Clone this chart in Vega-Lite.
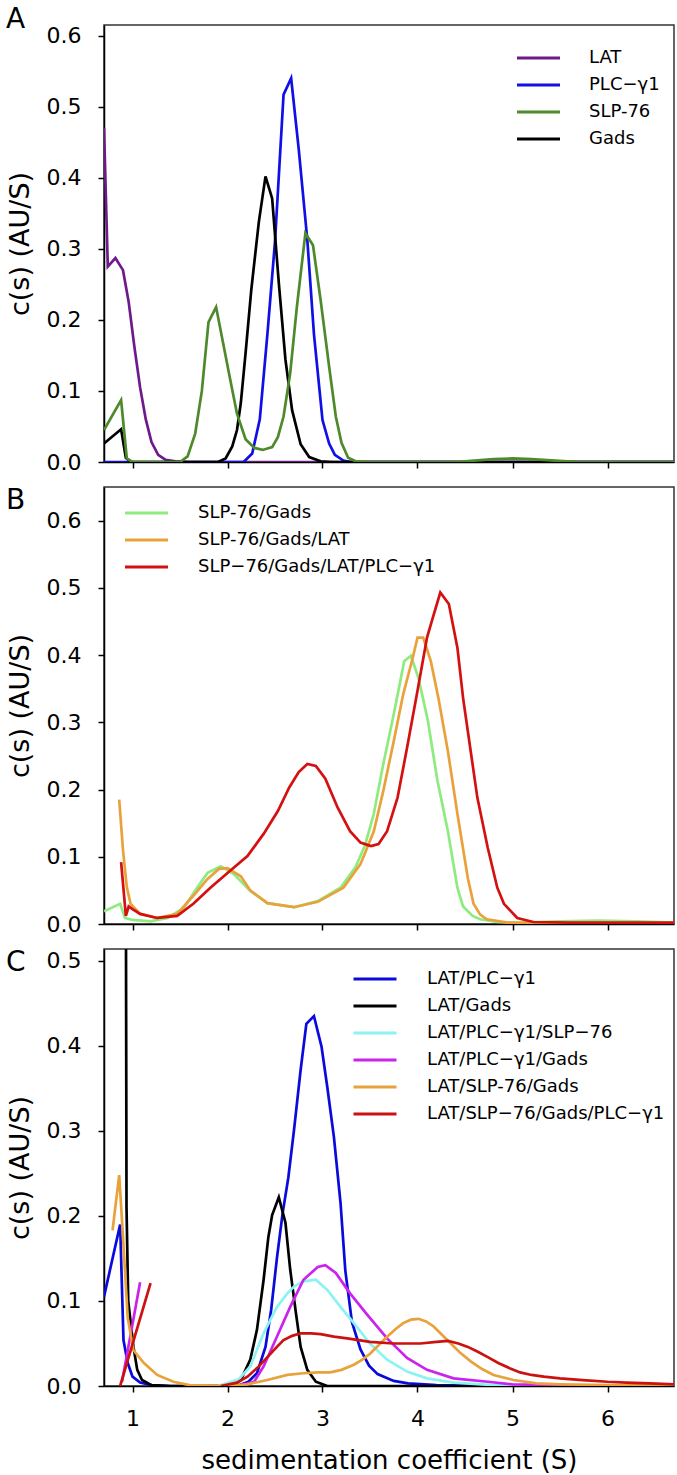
{
"$schema": "https://vega.github.io/schema/vega-lite/v6.json",
"padding": {"left": 5, "top": 4, "right": 4, "bottom": 2},
"spacing": 12,
"background": "white",
"config": {
  "font": "DejaVu Sans",
  "view": {"stroke": "#333333", "strokeWidth": 1.5},
  "axis": {"domainColor": "#000000", "domainWidth": 1.5, "tickColor": "#000000", "tickWidth": 1.5, "tickSize": 6, "grid": false, "labelFont": "DejaVu Sans", "labelFontSize": 22, "labelColor": "#000000", "titleFont": "DejaVu Sans", "titleFontSize": 27, "titleFontWeight": "normal", "titleColor": "#000000"},
  "legend": {"labelFont": "DejaVu Sans", "labelFontSize": 18, "labelColor": "#000000", "padding": 0, "rowPadding": 9, "symbolType": "M-3,0H3", "symbolSize": 205.4, "symbolStrokeWidth": 3, "labelLimit": 400},
  "title": {"font": "DejaVu Sans", "fontSize": 28, "fontWeight": "normal", "color": "#000000"}
},
"resolve": {"scale": {"x": "independent", "y": "independent", "color": "independent"}, "axis": {"x": "independent", "y": "independent"}, "legend": {"color": "independent"}},
"datasets": {
"A": [
{"s":0.7,"c":0.47,"name":"LAT"},{"s":0.74,"c":0.275,"name":"LAT"},{"s":0.82,"c":0.287,"name":"LAT"},{"s":0.9,"c":0.27,"name":"LAT"},{"s":0.96,"c":0.225,"name":"LAT"},{"s":1.02,"c":0.162,"name":"LAT"},{"s":1.08,"c":0.105,"name":"LAT"},{"s":1.14,"c":0.06,"name":"LAT"},{"s":1.2,"c":0.028,"name":"LAT"},{"s":1.27,"c":0.01,"name":"LAT"},{"s":1.35,"c":0.003,"name":"LAT"},{"s":1.45,"c":0.001,"name":"LAT"},{"s":1.6,"c":0,"name":"LAT"},{"s":3.0,"c":0,"name":"LAT"},{"s":4.5,"c":0,"name":"LAT"},{"s":6.7,"c":0,"name":"LAT"},
{"s":0.7,"c":0,"name":"PLC−γ1"},{"s":2.17,"c":0,"name":"PLC−γ1"},{"s":2.26,"c":0.012,"name":"PLC−γ1"},{"s":2.34,"c":0.06,"name":"PLC−γ1"},{"s":2.42,"c":0.18,"name":"PLC−γ1"},{"s":2.5,"c":0.31,"name":"PLC−γ1"},{"s":2.59,"c":0.517,"name":"PLC−γ1"},{"s":2.67,"c":0.54,"name":"PLC−γ1"},{"s":2.75,"c":0.44,"name":"PLC−γ1"},{"s":2.84,"c":0.313,"name":"PLC−γ1"},{"s":2.91,"c":0.18,"name":"PLC−γ1"},{"s":3.0,"c":0.059,"name":"PLC−γ1"},{"s":3.07,"c":0.026,"name":"PLC−γ1"},{"s":3.13,"c":0.01,"name":"PLC−γ1"},{"s":3.22,"c":0.002,"name":"PLC−γ1"},{"s":3.3,"c":0,"name":"PLC−γ1"},{"s":6.7,"c":0,"name":"PLC−γ1"},
{"s":0.7,"c":0.026,"name":"Gads"},{"s":0.88,"c":0.046,"name":"Gads"},{"s":0.93,"c":0.006,"name":"Gads"},{"s":0.98,"c":0,"name":"Gads"},{"s":1.9,"c":0,"name":"Gads"},{"s":1.98,"c":0.005,"name":"Gads"},{"s":2.05,"c":0.022,"name":"Gads"},{"s":2.1,"c":0.045,"name":"Gads"},{"s":2.14,"c":0.083,"name":"Gads"},{"s":2.19,"c":0.153,"name":"Gads"},{"s":2.25,"c":0.242,"name":"Gads"},{"s":2.33,"c":0.338,"name":"Gads"},{"s":2.4,"c":0.402,"name":"Gads"},{"s":2.47,"c":0.371,"name":"Gads"},{"s":2.54,"c":0.252,"name":"Gads"},{"s":2.61,"c":0.144,"name":"Gads"},{"s":2.68,"c":0.073,"name":"Gads"},{"s":2.77,"c":0.025,"name":"Gads"},{"s":2.86,"c":0.007,"name":"Gads"},{"s":2.98,"c":0.001,"name":"Gads"},{"s":3.1,"c":0,"name":"Gads"},{"s":6.7,"c":0,"name":"Gads"},
{"s":0.7,"c":0.045,"name":"SLP-76"},{"s":0.88,"c":0.087,"name":"SLP-76"},{"s":0.94,"c":0.005,"name":"SLP-76"},{"s":1.0,"c":0,"name":"SLP-76"},{"s":1.5,"c":0,"name":"SLP-76"},{"s":1.58,"c":0.008,"name":"SLP-76"},{"s":1.66,"c":0.04,"name":"SLP-76"},{"s":1.73,"c":0.1,"name":"SLP-76"},{"s":1.8,"c":0.197,"name":"SLP-76"},{"s":1.88,"c":0.218,"name":"SLP-76"},{"s":1.95,"c":0.17,"name":"SLP-76"},{"s":2.03,"c":0.115,"name":"SLP-76"},{"s":2.1,"c":0.068,"name":"SLP-76"},{"s":2.19,"c":0.032,"name":"SLP-76"},{"s":2.28,"c":0.02,"name":"SLP-76"},{"s":2.37,"c":0.017,"name":"SLP-76"},{"s":2.47,"c":0.021,"name":"SLP-76"},{"s":2.53,"c":0.035,"name":"SLP-76"},{"s":2.59,"c":0.064,"name":"SLP-76"},{"s":2.66,"c":0.125,"name":"SLP-76"},{"s":2.73,"c":0.218,"name":"SLP-76"},{"s":2.82,"c":0.322,"name":"SLP-76"},{"s":2.9,"c":0.305,"name":"SLP-76"},{"s":2.98,"c":0.228,"name":"SLP-76"},{"s":3.07,"c":0.134,"name":"SLP-76"},{"s":3.14,"c":0.064,"name":"SLP-76"},{"s":3.2,"c":0.027,"name":"SLP-76"},{"s":3.27,"c":0.006,"name":"SLP-76"},{"s":3.35,"c":0.001,"name":"SLP-76"},{"s":3.5,"c":0,"name":"SLP-76"},{"s":4.4,"c":0,"name":"SLP-76"},{"s":4.6,"c":0.002,"name":"SLP-76"},{"s":4.8,"c":0.004,"name":"SLP-76"},{"s":5.0,"c":0.005,"name":"SLP-76"},{"s":5.2,"c":0.004,"name":"SLP-76"},{"s":5.45,"c":0.002,"name":"SLP-76"},{"s":5.7,"c":0,"name":"SLP-76"},{"s":6.7,"c":0,"name":"SLP-76"}
],
"B": [
{"s":0.7,"c":0.019,"name":"SLP-76/Gads"},{"s":0.87,"c":0.03,"name":"SLP-76/Gads"},{"s":0.92,"c":0.009,"name":"SLP-76/Gads"},{"s":1.0,"c":0.006,"name":"SLP-76/Gads"},{"s":1.19,"c":0.004,"name":"SLP-76/Gads"},{"s":1.37,"c":0.009,"name":"SLP-76/Gads"},{"s":1.54,"c":0.024,"name":"SLP-76/Gads"},{"s":1.68,"c":0.054,"name":"SLP-76/Gads"},{"s":1.79,"c":0.076,"name":"SLP-76/Gads"},{"s":1.93,"c":0.086,"name":"SLP-76/Gads"},{"s":2.07,"c":0.074,"name":"SLP-76/Gads"},{"s":2.24,"c":0.049,"name":"SLP-76/Gads"},{"s":2.42,"c":0.031,"name":"SLP-76/Gads"},{"s":2.7,"c":0.025,"name":"SLP-76/Gads"},{"s":2.95,"c":0.034,"name":"SLP-76/Gads"},{"s":3.19,"c":0.054,"name":"SLP-76/Gads"},{"s":3.35,"c":0.085,"name":"SLP-76/Gads"},{"s":3.45,"c":0.118,"name":"SLP-76/Gads"},{"s":3.54,"c":0.164,"name":"SLP-76/Gads"},{"s":3.64,"c":0.238,"name":"SLP-76/Gads"},{"s":3.75,"c":0.312,"name":"SLP-76/Gads"},{"s":3.82,"c":0.362,"name":"SLP-76/Gads"},{"s":3.86,"c":0.391,"name":"SLP-76/Gads"},{"s":3.93,"c":0.399,"name":"SLP-76/Gads"},{"s":4.01,"c":0.366,"name":"SLP-76/Gads"},{"s":4.11,"c":0.302,"name":"SLP-76/Gads"},{"s":4.21,"c":0.213,"name":"SLP-76/Gads"},{"s":4.32,"c":0.138,"name":"SLP-76/Gads"},{"s":4.42,"c":0.054,"name":"SLP-76/Gads"},{"s":4.48,"c":0.026,"name":"SLP-76/Gads"},{"s":4.58,"c":0.012,"name":"SLP-76/Gads"},{"s":4.66,"c":0.007,"name":"SLP-76/Gads"},{"s":4.84,"c":0.003,"name":"SLP-76/Gads"},{"s":5.1,"c":0.002,"name":"SLP-76/Gads"},{"s":5.5,"c":0.004,"name":"SLP-76/Gads"},{"s":5.9,"c":0.005,"name":"SLP-76/Gads"},{"s":6.3,"c":0.004,"name":"SLP-76/Gads"},{"s":6.7,"c":0.002,"name":"SLP-76/Gads"},
{"s":0.86,"c":0.185,"name":"SLP-76/Gads/LAT"},{"s":0.9,"c":0.11,"name":"SLP-76/Gads/LAT"},{"s":0.94,"c":0.055,"name":"SLP-76/Gads/LAT"},{"s":0.98,"c":0.03,"name":"SLP-76/Gads/LAT"},{"s":1.08,"c":0.015,"name":"SLP-76/Gads/LAT"},{"s":1.26,"c":0.009,"name":"SLP-76/Gads/LAT"},{"s":1.47,"c":0.015,"name":"SLP-76/Gads/LAT"},{"s":1.64,"c":0.042,"name":"SLP-76/Gads/LAT"},{"s":1.79,"c":0.067,"name":"SLP-76/Gads/LAT"},{"s":1.91,"c":0.082,"name":"SLP-76/Gads/LAT"},{"s":2.0,"c":0.083,"name":"SLP-76/Gads/LAT"},{"s":2.14,"c":0.071,"name":"SLP-76/Gads/LAT"},{"s":2.24,"c":0.05,"name":"SLP-76/Gads/LAT"},{"s":2.42,"c":0.031,"name":"SLP-76/Gads/LAT"},{"s":2.7,"c":0.025,"name":"SLP-76/Gads/LAT"},{"s":2.95,"c":0.033,"name":"SLP-76/Gads/LAT"},{"s":3.22,"c":0.054,"name":"SLP-76/Gads/LAT"},{"s":3.4,"c":0.089,"name":"SLP-76/Gads/LAT"},{"s":3.54,"c":0.138,"name":"SLP-76/Gads/LAT"},{"s":3.64,"c":0.198,"name":"SLP-76/Gads/LAT"},{"s":3.75,"c":0.272,"name":"SLP-76/Gads/LAT"},{"s":3.85,"c":0.342,"name":"SLP-76/Gads/LAT"},{"s":3.95,"c":0.396,"name":"SLP-76/Gads/LAT"},{"s":4.0,"c":0.426,"name":"SLP-76/Gads/LAT"},{"s":4.06,"c":0.426,"name":"SLP-76/Gads/LAT"},{"s":4.14,"c":0.391,"name":"SLP-76/Gads/LAT"},{"s":4.22,"c":0.336,"name":"SLP-76/Gads/LAT"},{"s":4.32,"c":0.257,"name":"SLP-76/Gads/LAT"},{"s":4.42,"c":0.164,"name":"SLP-76/Gads/LAT"},{"s":4.53,"c":0.068,"name":"SLP-76/Gads/LAT"},{"s":4.59,"c":0.03,"name":"SLP-76/Gads/LAT"},{"s":4.66,"c":0.014,"name":"SLP-76/Gads/LAT"},{"s":4.73,"c":0.007,"name":"SLP-76/Gads/LAT"},{"s":4.95,"c":0.002,"name":"SLP-76/Gads/LAT"},{"s":5.5,"c":0.001,"name":"SLP-76/Gads/LAT"},{"s":6.7,"c":0.001,"name":"SLP-76/Gads/LAT"},
{"s":0.88,"c":0.092,"name":"SLP−76/Gads/LAT/PLC−γ1"},{"s":0.93,"c":0.012,"name":"SLP−76/Gads/LAT/PLC−γ1"},{"s":0.96,"c":0.026,"name":"SLP−76/Gads/LAT/PLC−γ1"},{"s":1.0,"c":0.022,"name":"SLP−76/Gads/LAT/PLC−γ1"},{"s":1.08,"c":0.015,"name":"SLP−76/Gads/LAT/PLC−γ1"},{"s":1.26,"c":0.009,"name":"SLP−76/Gads/LAT/PLC−γ1"},{"s":1.47,"c":0.012,"name":"SLP−76/Gads/LAT/PLC−γ1"},{"s":1.64,"c":0.03,"name":"SLP−76/Gads/LAT/PLC−γ1"},{"s":1.82,"c":0.054,"name":"SLP−76/Gads/LAT/PLC−γ1"},{"s":2.0,"c":0.076,"name":"SLP−76/Gads/LAT/PLC−γ1"},{"s":2.21,"c":0.101,"name":"SLP−76/Gads/LAT/PLC−γ1"},{"s":2.38,"c":0.134,"name":"SLP−76/Gads/LAT/PLC−γ1"},{"s":2.53,"c":0.168,"name":"SLP−76/Gads/LAT/PLC−γ1"},{"s":2.65,"c":0.203,"name":"SLP−76/Gads/LAT/PLC−γ1"},{"s":2.75,"c":0.226,"name":"SLP−76/Gads/LAT/PLC−γ1"},{"s":2.84,"c":0.238,"name":"SLP−76/Gads/LAT/PLC−γ1"},{"s":2.93,"c":0.235,"name":"SLP−76/Gads/LAT/PLC−γ1"},{"s":3.03,"c":0.216,"name":"SLP−76/Gads/LAT/PLC−γ1"},{"s":3.16,"c":0.173,"name":"SLP−76/Gads/LAT/PLC−γ1"},{"s":3.29,"c":0.138,"name":"SLP−76/Gads/LAT/PLC−γ1"},{"s":3.4,"c":0.121,"name":"SLP−76/Gads/LAT/PLC−γ1"},{"s":3.51,"c":0.116,"name":"SLP−76/Gads/LAT/PLC−γ1"},{"s":3.59,"c":0.119,"name":"SLP−76/Gads/LAT/PLC−γ1"},{"s":3.68,"c":0.138,"name":"SLP−76/Gads/LAT/PLC−γ1"},{"s":3.79,"c":0.188,"name":"SLP−76/Gads/LAT/PLC−γ1"},{"s":3.89,"c":0.262,"name":"SLP−76/Gads/LAT/PLC−γ1"},{"s":4.0,"c":0.347,"name":"SLP−76/Gads/LAT/PLC−γ1"},{"s":4.1,"c":0.426,"name":"SLP−76/Gads/LAT/PLC−γ1"},{"s":4.16,"c":0.455,"name":"SLP−76/Gads/LAT/PLC−γ1"},{"s":4.24,"c":0.493,"name":"SLP−76/Gads/LAT/PLC−γ1"},{"s":4.33,"c":0.476,"name":"SLP−76/Gads/LAT/PLC−γ1"},{"s":4.42,"c":0.411,"name":"SLP−76/Gads/LAT/PLC−γ1"},{"s":4.48,"c":0.336,"name":"SLP−76/Gads/LAT/PLC−γ1"},{"s":4.56,"c":0.257,"name":"SLP−76/Gads/LAT/PLC−γ1"},{"s":4.63,"c":0.188,"name":"SLP−76/Gads/LAT/PLC−γ1"},{"s":4.74,"c":0.113,"name":"SLP−76/Gads/LAT/PLC−γ1"},{"s":4.84,"c":0.054,"name":"SLP−76/Gads/LAT/PLC−γ1"},{"s":4.91,"c":0.03,"name":"SLP−76/Gads/LAT/PLC−γ1"},{"s":5.05,"c":0.009,"name":"SLP−76/Gads/LAT/PLC−γ1"},{"s":5.22,"c":0.003,"name":"SLP−76/Gads/LAT/PLC−γ1"},{"s":5.6,"c":0.002,"name":"SLP−76/Gads/LAT/PLC−γ1"},{"s":6.7,"c":0.002,"name":"SLP−76/Gads/LAT/PLC−γ1"}
],
"C": [
{"s":0.7,"c":0.105,"name":"LAT/PLC−γ1","seg":1},{"s":0.87,"c":0.19,"name":"LAT/PLC−γ1","seg":1},{"s":0.905,"c":0.054,"name":"LAT/PLC−γ1","seg":1},{"s":0.95,"c":0.027,"name":"LAT/PLC−γ1","seg":1},{"s":1.0,"c":0.011,"name":"LAT/PLC−γ1","seg":1},{"s":1.08,"c":0.004,"name":"LAT/PLC−γ1","seg":1},{"s":1.2,"c":0.001,"name":"LAT/PLC−γ1","seg":1},{"s":1.4,"c":0,"name":"LAT/PLC−γ1","seg":1},{"s":2.1,"c":0,"name":"LAT/PLC−γ1","seg":1},{"s":2.22,"c":0.005,"name":"LAT/PLC−γ1","seg":1},{"s":2.31,"c":0.015,"name":"LAT/PLC−γ1","seg":1},{"s":2.4,"c":0.046,"name":"LAT/PLC−γ1","seg":1},{"s":2.46,"c":0.09,"name":"LAT/PLC−γ1","seg":1},{"s":2.52,"c":0.15,"name":"LAT/PLC−γ1","seg":1},{"s":2.58,"c":0.203,"name":"LAT/PLC−γ1","seg":1},{"s":2.64,"c":0.245,"name":"LAT/PLC−γ1","seg":1},{"s":2.7,"c":0.301,"name":"LAT/PLC−γ1","seg":1},{"s":2.77,"c":0.372,"name":"LAT/PLC−γ1","seg":1},{"s":2.83,"c":0.426,"name":"LAT/PLC−γ1","seg":1},{"s":2.91,"c":0.435,"name":"LAT/PLC−γ1","seg":1},{"s":2.99,"c":0.399,"name":"LAT/PLC−γ1","seg":1},{"s":3.05,"c":0.352,"name":"LAT/PLC−γ1","seg":1},{"s":3.12,"c":0.293,"name":"LAT/PLC−γ1","seg":1},{"s":3.19,"c":0.215,"name":"LAT/PLC−γ1","seg":1},{"s":3.24,"c":0.136,"name":"LAT/PLC−γ1","seg":1},{"s":3.31,"c":0.075,"name":"LAT/PLC−γ1","seg":1},{"s":3.4,"c":0.043,"name":"LAT/PLC−γ1","seg":1},{"s":3.49,"c":0.024,"name":"LAT/PLC−γ1","seg":1},{"s":3.58,"c":0.014,"name":"LAT/PLC−γ1","seg":1},{"s":3.75,"c":0.006,"name":"LAT/PLC−γ1","seg":1},{"s":3.9,"c":0.003,"name":"LAT/PLC−γ1","seg":1},{"s":4.2,"c":0.001,"name":"LAT/PLC−γ1","seg":1},{"s":6.7,"c":0,"name":"LAT/PLC−γ1","seg":1},
{"s":0.925,"c":0.9,"name":"LAT/Gads","seg":1},{"s":0.937,"c":0.21,"name":"LAT/Gads","seg":1},{"s":0.955,"c":0.1,"name":"LAT/Gads","seg":1},{"s":1.01,"c":0.046,"name":"LAT/Gads","seg":1},{"s":1.05,"c":0.019,"name":"LAT/Gads","seg":1},{"s":1.1,"c":0.007,"name":"LAT/Gads","seg":1},{"s":1.2,"c":0.001,"name":"LAT/Gads","seg":1},{"s":1.4,"c":0,"name":"LAT/Gads","seg":1},{"s":2.05,"c":0,"name":"LAT/Gads","seg":1},{"s":2.14,"c":0.007,"name":"LAT/Gads","seg":1},{"s":2.24,"c":0.031,"name":"LAT/Gads","seg":1},{"s":2.31,"c":0.066,"name":"LAT/Gads","seg":1},{"s":2.38,"c":0.125,"name":"LAT/Gads","seg":1},{"s":2.43,"c":0.175,"name":"LAT/Gads","seg":1},{"s":2.47,"c":0.201,"name":"LAT/Gads","seg":1},{"s":2.54,"c":0.222,"name":"LAT/Gads","seg":1},{"s":2.61,"c":0.192,"name":"LAT/Gads","seg":1},{"s":2.66,"c":0.137,"name":"LAT/Gads","seg":1},{"s":2.72,"c":0.086,"name":"LAT/Gads","seg":1},{"s":2.77,"c":0.046,"name":"LAT/Gads","seg":1},{"s":2.84,"c":0.019,"name":"LAT/Gads","seg":1},{"s":2.93,"c":0.005,"name":"LAT/Gads","seg":1},{"s":3.05,"c":0,"name":"LAT/Gads","seg":1},{"s":6.7,"c":0,"name":"LAT/Gads","seg":1},
{"s":1.9,"c":0,"name":"LAT/PLC−γ1/SLP−76","seg":1},{"s":2.12,"c":0.008,"name":"LAT/PLC−γ1/SLP−76","seg":1},{"s":2.24,"c":0.023,"name":"LAT/PLC−γ1/SLP−76","seg":1},{"s":2.38,"c":0.062,"name":"LAT/PLC−γ1/SLP−76","seg":1},{"s":2.52,"c":0.093,"name":"LAT/PLC−γ1/SLP−76","seg":1},{"s":2.63,"c":0.109,"name":"LAT/PLC−γ1/SLP−76","seg":1},{"s":2.7,"c":0.117,"name":"LAT/PLC−γ1/SLP−76","seg":1},{"s":2.8,"c":0.123,"name":"LAT/PLC−γ1/SLP−76","seg":1},{"s":2.93,"c":0.125,"name":"LAT/PLC−γ1/SLP−76","seg":1},{"s":3.05,"c":0.113,"name":"LAT/PLC−γ1/SLP−76","seg":1},{"s":3.19,"c":0.093,"name":"LAT/PLC−γ1/SLP−76","seg":1},{"s":3.33,"c":0.074,"name":"LAT/PLC−γ1/SLP−76","seg":1},{"s":3.5,"c":0.05,"name":"LAT/PLC−γ1/SLP−76","seg":1},{"s":3.68,"c":0.031,"name":"LAT/PLC−γ1/SLP−76","seg":1},{"s":3.89,"c":0.017,"name":"LAT/PLC−γ1/SLP−76","seg":1},{"s":4.1,"c":0.009,"name":"LAT/PLC−γ1/SLP−76","seg":1},{"s":4.38,"c":0.004,"name":"LAT/PLC−γ1/SLP−76","seg":1},{"s":4.8,"c":0.001,"name":"LAT/PLC−γ1/SLP−76","seg":1},{"s":5.2,"c":0,"name":"LAT/PLC−γ1/SLP−76","seg":1},
{"s":0.89,"c":0.005,"name":"LAT/PLC−γ1/Gads","seg":1},{"s":1.08,"c":0.122,"name":"LAT/PLC−γ1/Gads","seg":1},
{"s":2.1,"c":0,"name":"LAT/PLC−γ1/Gads","seg":2},{"s":2.28,"c":0.005,"name":"LAT/PLC−γ1/Gads","seg":2},{"s":2.38,"c":0.023,"name":"LAT/PLC−γ1/Gads","seg":2},{"s":2.52,"c":0.058,"name":"LAT/PLC−γ1/Gads","seg":2},{"s":2.66,"c":0.093,"name":"LAT/PLC−γ1/Gads","seg":2},{"s":2.8,"c":0.125,"name":"LAT/PLC−γ1/Gads","seg":2},{"s":2.95,"c":0.14,"name":"LAT/PLC−γ1/Gads","seg":2},{"s":3.03,"c":0.142,"name":"LAT/PLC−γ1/Gads","seg":2},{"s":3.14,"c":0.133,"name":"LAT/PLC−γ1/Gads","seg":2},{"s":3.29,"c":0.109,"name":"LAT/PLC−γ1/Gads","seg":2},{"s":3.47,"c":0.084,"name":"LAT/PLC−γ1/Gads","seg":2},{"s":3.68,"c":0.056,"name":"LAT/PLC−γ1/Gads","seg":2},{"s":3.89,"c":0.033,"name":"LAT/PLC−γ1/Gads","seg":2},{"s":4.1,"c":0.019,"name":"LAT/PLC−γ1/Gads","seg":2},{"s":4.38,"c":0.009,"name":"LAT/PLC−γ1/Gads","seg":2},{"s":4.74,"c":0.005,"name":"LAT/PLC−γ1/Gads","seg":2},{"s":5.0,"c":0.002,"name":"LAT/PLC−γ1/Gads","seg":2},{"s":5.4,"c":0.001,"name":"LAT/PLC−γ1/Gads","seg":2},{"s":6.0,"c":0,"name":"LAT/PLC−γ1/Gads","seg":2},
{"s":0.79,"c":0.183,"name":"LAT/SLP-76/Gads","seg":1},{"s":0.86,"c":0.248,"name":"LAT/SLP-76/Gads","seg":1},{"s":0.9,"c":0.175,"name":"LAT/SLP-76/Gads","seg":1},{"s":0.95,"c":0.08,"name":"LAT/SLP-76/Gads","seg":1},{"s":1.01,"c":0.042,"name":"LAT/SLP-76/Gads","seg":1},{"s":1.12,"c":0.027,"name":"LAT/SLP-76/Gads","seg":1},{"s":1.26,"c":0.013,"name":"LAT/SLP-76/Gads","seg":1},{"s":1.43,"c":0.005,"name":"LAT/SLP-76/Gads","seg":1},{"s":1.6,"c":0.001,"name":"LAT/SLP-76/Gads","seg":1},{"s":2.0,"c":0,"name":"LAT/SLP-76/Gads","seg":1},{"s":2.21,"c":0.002,"name":"LAT/SLP-76/Gads","seg":1},{"s":2.42,"c":0.007,"name":"LAT/SLP-76/Gads","seg":1},{"s":2.63,"c":0.013,"name":"LAT/SLP-76/Gads","seg":1},{"s":2.8,"c":0.015,"name":"LAT/SLP-76/Gads","seg":1},{"s":2.95,"c":0.016,"name":"LAT/SLP-76/Gads","seg":1},{"s":3.08,"c":0.016,"name":"LAT/SLP-76/Gads","seg":1},{"s":3.2,"c":0.019,"name":"LAT/SLP-76/Gads","seg":1},{"s":3.33,"c":0.025,"name":"LAT/SLP-76/Gads","seg":1},{"s":3.42,"c":0.031,"name":"LAT/SLP-76/Gads","seg":1},{"s":3.5,"c":0.038,"name":"LAT/SLP-76/Gads","seg":1},{"s":3.59,"c":0.048,"name":"LAT/SLP-76/Gads","seg":1},{"s":3.68,"c":0.058,"name":"LAT/SLP-76/Gads","seg":1},{"s":3.77,"c":0.067,"name":"LAT/SLP-76/Gads","seg":1},{"s":3.85,"c":0.074,"name":"LAT/SLP-76/Gads","seg":1},{"s":3.93,"c":0.078,"name":"LAT/SLP-76/Gads","seg":1},{"s":4.01,"c":0.079,"name":"LAT/SLP-76/Gads","seg":1},{"s":4.09,"c":0.076,"name":"LAT/SLP-76/Gads","seg":1},{"s":4.17,"c":0.07,"name":"LAT/SLP-76/Gads","seg":1},{"s":4.26,"c":0.06,"name":"LAT/SLP-76/Gads","seg":1},{"s":4.35,"c":0.05,"name":"LAT/SLP-76/Gads","seg":1},{"s":4.45,"c":0.039,"name":"LAT/SLP-76/Gads","seg":1},{"s":4.56,"c":0.029,"name":"LAT/SLP-76/Gads","seg":1},{"s":4.68,"c":0.02,"name":"LAT/SLP-76/Gads","seg":1},{"s":4.8,"c":0.013,"name":"LAT/SLP-76/Gads","seg":1},{"s":5.01,"c":0.007,"name":"LAT/SLP-76/Gads","seg":1},{"s":5.25,"c":0.003,"name":"LAT/SLP-76/Gads","seg":1},{"s":5.5,"c":0.002,"name":"LAT/SLP-76/Gads","seg":1},{"s":6.0,"c":0.001,"name":"LAT/SLP-76/Gads","seg":1},{"s":6.7,"c":0,"name":"LAT/SLP-76/Gads","seg":1},
{"s":0.87,"c":0,"name":"LAT/SLP−76/Gads/PLC−γ1","seg":1},{"s":1.19,"c":0.121,"name":"LAT/SLP−76/Gads/PLC−γ1","seg":1},
{"s":1.93,"c":0,"name":"LAT/SLP−76/Gads/PLC−γ1","seg":2},{"s":2.1,"c":0.004,"name":"LAT/SLP−76/Gads/PLC−γ1","seg":2},{"s":2.21,"c":0.011,"name":"LAT/SLP−76/Gads/PLC−γ1","seg":2},{"s":2.32,"c":0.022,"name":"LAT/SLP−76/Gads/PLC−γ1","seg":2},{"s":2.42,"c":0.034,"name":"LAT/SLP−76/Gads/PLC−γ1","seg":2},{"s":2.52,"c":0.046,"name":"LAT/SLP−76/Gads/PLC−γ1","seg":2},{"s":2.59,"c":0.054,"name":"LAT/SLP−76/Gads/PLC−γ1","seg":2},{"s":2.68,"c":0.059,"name":"LAT/SLP−76/Gads/PLC−γ1","seg":2},{"s":2.77,"c":0.062,"name":"LAT/SLP−76/Gads/PLC−γ1","seg":2},{"s":2.88,"c":0.062,"name":"LAT/SLP−76/Gads/PLC−γ1","seg":2},{"s":2.98,"c":0.061,"name":"LAT/SLP−76/Gads/PLC−γ1","seg":2},{"s":3.12,"c":0.058,"name":"LAT/SLP−76/Gads/PLC−γ1","seg":2},{"s":3.26,"c":0.056,"name":"LAT/SLP−76/Gads/PLC−γ1","seg":2},{"s":3.5,"c":0.052,"name":"LAT/SLP−76/Gads/PLC−γ1","seg":2},{"s":3.75,"c":0.05,"name":"LAT/SLP−76/Gads/PLC−γ1","seg":2},{"s":4.03,"c":0.05,"name":"LAT/SLP−76/Gads/PLC−γ1","seg":2},{"s":4.2,"c":0.052,"name":"LAT/SLP−76/Gads/PLC−γ1","seg":2},{"s":4.32,"c":0.053,"name":"LAT/SLP−76/Gads/PLC−γ1","seg":2},{"s":4.43,"c":0.05,"name":"LAT/SLP−76/Gads/PLC−γ1","seg":2},{"s":4.53,"c":0.046,"name":"LAT/SLP−76/Gads/PLC−γ1","seg":2},{"s":4.64,"c":0.04,"name":"LAT/SLP−76/Gads/PLC−γ1","seg":2},{"s":4.74,"c":0.034,"name":"LAT/SLP−76/Gads/PLC−γ1","seg":2},{"s":4.85,"c":0.027,"name":"LAT/SLP−76/Gads/PLC−γ1","seg":2},{"s":4.97,"c":0.021,"name":"LAT/SLP−76/Gads/PLC−γ1","seg":2},{"s":5.08,"c":0.016,"name":"LAT/SLP−76/Gads/PLC−γ1","seg":2},{"s":5.2,"c":0.013,"name":"LAT/SLP−76/Gads/PLC−γ1","seg":2},{"s":5.33,"c":0.011,"name":"LAT/SLP−76/Gads/PLC−γ1","seg":2},{"s":5.5,"c":0.009,"name":"LAT/SLP−76/Gads/PLC−γ1","seg":2},{"s":5.74,"c":0.007,"name":"LAT/SLP−76/Gads/PLC−γ1","seg":2},{"s":6.0,"c":0.005,"name":"LAT/SLP−76/Gads/PLC−γ1","seg":2},{"s":6.2,"c":0.004,"name":"LAT/SLP−76/Gads/PLC−γ1","seg":2},{"s":6.45,"c":0.003,"name":"LAT/SLP−76/Gads/PLC−γ1","seg":2},{"s":6.7,"c":0.002,"name":"LAT/SLP−76/Gads/PLC−γ1","seg":2}
]
},
"vconcat": [
{
  "data": {"name": "A"},
  "width": 570, "height": 437,
  "title": {"text": "A", "anchor": "start", "frame": "bounds", "orient": "top", "offset": -9, "dx": 0},
  "mark": {"type": "line", "strokeWidth": 2.7, "clip": true},
  "encoding": {
    "x": {"field": "s", "type": "quantitative", "scale": {"domain": [0.7, 6.7], "nice": false, "zero": false}, "axis": {"values": [1,2,3,4,5,6], "labels": false, "title": null}},
    "y": {"field": "c", "type": "quantitative", "scale": {"domain": [0, 0.615], "nice": false}, "axis": {"values": [0,0.1,0.2,0.3,0.4,0.5,0.6], "format": ".1f", "title": "c(s) (AU/S)", "labelPadding": 17, "titlePadding": 12}},
    "color": {"field": "name", "type": "nominal", "scale": {"domain": ["LAT","PLC−γ1","SLP-76","Gads"], "range": ["#6E1A8A","#1010E6","#4E8A2C","#000000"]}, "legend": {"orient": "none", "legendX": 425.5, "legendY": 24, "title": null, "labelOffset": 41.5}}
  }
},
{
  "data": {"name": "B"},
  "width": 570, "height": 437,
  "title": {"text": "B", "anchor": "start", "frame": "bounds", "orient": "top", "offset": -28, "dx": 0},
  "mark": {"type": "line", "strokeWidth": 2.7, "clip": true},
  "encoding": {
    "x": {"field": "s", "type": "quantitative", "scale": {"domain": [0.7, 6.7], "nice": false, "zero": false}, "axis": {"values": [1,2,3,4,5,6], "labels": false, "title": null}},
    "y": {"field": "c", "type": "quantitative", "scale": {"domain": [0, 0.65], "nice": false}, "axis": {"values": [0,0.1,0.2,0.3,0.4,0.5,0.6], "format": ".1f", "title": "c(s) (AU/S)", "labelPadding": 17, "titlePadding": 12}},
    "color": {"field": "name", "type": "nominal", "scale": {"domain": ["SLP-76/Gads","SLP-76/Gads/LAT","SLP−76/Gads/LAT/PLC−γ1"], "range": ["#8DEB7F","#E9A23B","#D41010"]}, "legend": {"orient": "none", "legendX": 33.5, "legendY": 17, "title": null, "labelOffset": 42.5}}
  }
},
{
  "data": {"name": "C"},
  "width": 570, "height": 437,
  "title": {"text": "C", "anchor": "start", "frame": "bounds", "orient": "top", "offset": -28, "dx": 0},
  "mark": {"type": "line", "strokeWidth": 2.7, "clip": true},
  "encoding": {
    "x": {"field": "s", "type": "quantitative", "scale": {"domain": [0.7, 6.7], "nice": false, "zero": false}, "axis": {"values": [1,2,3,4,5,6], "format": "d", "title": "sedimentation coefficient (S)", "titleFontSize": 26, "labelPadding": 16, "titlePadding": 18}},
    "y": {"field": "c", "type": "quantitative", "scale": {"domain": [0, 0.514], "nice": false}, "axis": {"values": [0,0.1,0.2,0.3,0.4,0.5], "format": ".1f", "title": "c(s) (AU/S)", "labelPadding": 17, "titlePadding": 12}},
    "color": {"field": "name", "type": "nominal", "scale": {"domain": ["LAT/PLC−γ1","LAT/Gads","LAT/PLC−γ1/SLP−76","LAT/PLC−γ1/Gads","LAT/SLP-76/Gads","LAT/SLP−76/Gads/PLC−γ1"], "range": ["#0A0ADC","#000000","#8CF2F2","#CC22EE","#E9A23B","#CC1111"]}, "legend": {"orient": "none", "legendX": 262, "legendY": 21, "title": null, "labelOffset": 43}},
    "detail": {"field": "seg", "type": "nominal"}
  }
}
]
}
